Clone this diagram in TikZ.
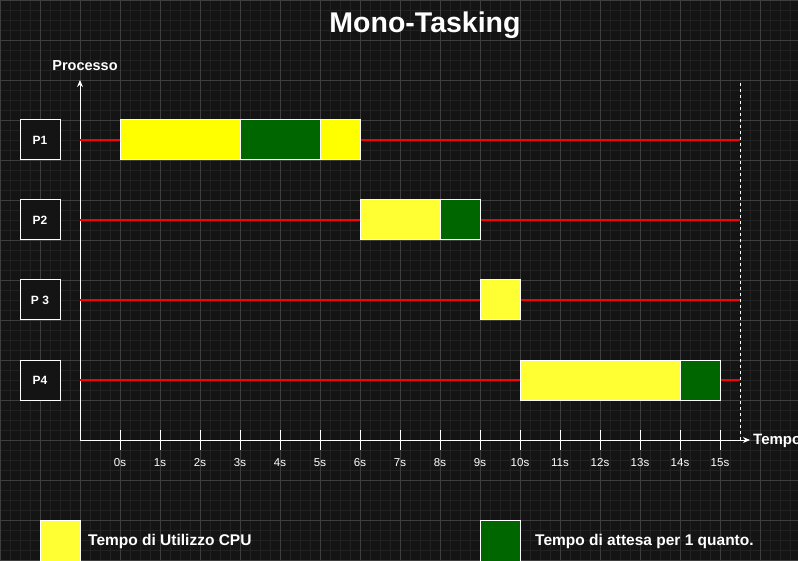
\documentclass[tikz,border=0pt]{standalone}
\usepackage{fontspec}
\setmainfont{Liberation Sans}
\usetikzlibrary{arrows.meta}
\definecolor{bgc}{RGB}{20,20,20}
\definecolor{minorc}{RGB}{34,34,34}
\definecolor{majorc}{RGB}{62,62,62}
\definecolor{yelA}{RGB}{255,255,0}
\definecolor{yelB}{RGB}{255,255,51}
\definecolor{grn}{RGB}{0,102,0}
\definecolor{redl}{RGB}{255,0,0}
\begin{document}
\begin{tikzpicture}[x=1pt,y=-1pt,
  procbox/.style={draw=white,line width=1pt,fill=bgc,minimum width=40pt,minimum height=40pt,inner sep=0pt,text=white,font=\bfseries\fontsize{12}{14}\selectfont},
  cpubar/.style={draw=white,line width=1pt},
  redline/.style={draw=redl,line width=1.2pt},
  axisline/.style={draw=white,line width=1pt,-{Stealth[length=7pt,width=6pt]}},
  ticklbl/.style={text=white,font=\fontsize{11.5}{13}\selectfont},
  boldlbl/.style={text=white,font=\bfseries\fontsize{15.5}{18}\selectfont}]
\fill[bgc] (0,0) rectangle (798,561);
\useasboundingbox (0,0) rectangle (798,561);
\foreach \i in {0,10,...,790} \draw[minorc,line width=0.6pt] (\i,0) -- (\i,561);
\foreach \j in {0,10,...,560} \draw[minorc,line width=0.6pt] (0,\j) -- (798,\j);
\foreach \i in {0,40,...,790} \draw[majorc,line width=0.8pt] (\i,0) -- (\i,561);
\foreach \j in {0,40,...,560} \draw[majorc,line width=0.8pt] (0,\j) -- (798,\j);

\node[text=white,font=\bfseries\fontsize{28.5}{32}\selectfont] (title) at (425,25) {Mono-Tasking};

% axes
\coordinate (orig) at (80,440);
\coordinate (ytop) at (80,80);
\coordinate (xend) at (750,440);
\draw[axisline] (orig) -- (ytop);
\draw[axisline] (orig) -- (xend);
\node[text=white,font=\bfseries\fontsize{14.5}{16}\selectfont] (ylab) at (85,66) {Processo};
\node[text=white,anchor=west,inner sep=0pt,font=\bfseries\fontsize{15}{17}\selectfont] (xlab) at (753,441) {Tempo};
\coordinate (dtop) at (740,83);
\coordinate (dbot) at (740,440);
\draw[white,line width=1pt,dash pattern=on 3pt off 3pt] (dtop) -- (dbot);

% process rows
\node[procbox] (p1) at (40,140) {P1};
\node[procbox] (p2) at (40,220) {P2};
\node[procbox] (p3) at (40,300) {P 3};
\node[procbox] (p4) at (40,380) {P4};
\coordinate (r1a) at (80,140); \coordinate (r1b) at (740,140);
\coordinate (r2a) at (80,220); \coordinate (r2b) at (740,220);
\coordinate (r3a) at (80,300); \coordinate (r3b) at (740,300);
\coordinate (r4a) at (80,380); \coordinate (r4b) at (740,380);
\draw[redline] (r1a) -- (r1b);
\draw[redline] (r2a) -- (r2b);
\draw[redline] (r3a) -- (r3b);
\draw[redline] (r4a) -- (r4b);

% bars
\draw[cpubar,fill=yelA] (120,120) rectangle (240,160);
\draw[cpubar,fill=grn] (240,120) rectangle (320,160);
\draw[cpubar,fill=yelA] (320,120) rectangle (360,160);
\draw[cpubar,fill=yelB] (360,200) rectangle (440,240);
\draw[cpubar,fill=grn] (440,200) rectangle (480,240);
\draw[cpubar,fill=yelB] (480,280) rectangle (520,320);
\draw[cpubar,fill=yelB] (520,360) rectangle (680,400);
\draw[cpubar,fill=grn] (680,360) rectangle (720,400);

% ticks
\foreach \k in {0,...,15}{
  \draw[white,line width=1pt] (120+40*\k,430) -- (120+40*\k,450);
  \node[ticklbl] (tl\k) at (120+40*\k,463) {\k s};
}

% legend
\draw[white,line width=1pt,fill=yelB] (40,520) rectangle (80,561);
\node[boldlbl,anchor=west,inner sep=0pt] (leg1) at (88,541) {Tempo di Utilizzo CPU};
\draw[white,line width=1pt,fill=grn] (480,520) rectangle (520,561);
\node[boldlbl,anchor=west,inner sep=0pt] (leg2) at (535,541) {Tempo di attesa per 1 quanto.};
\end{tikzpicture}
\end{document}
